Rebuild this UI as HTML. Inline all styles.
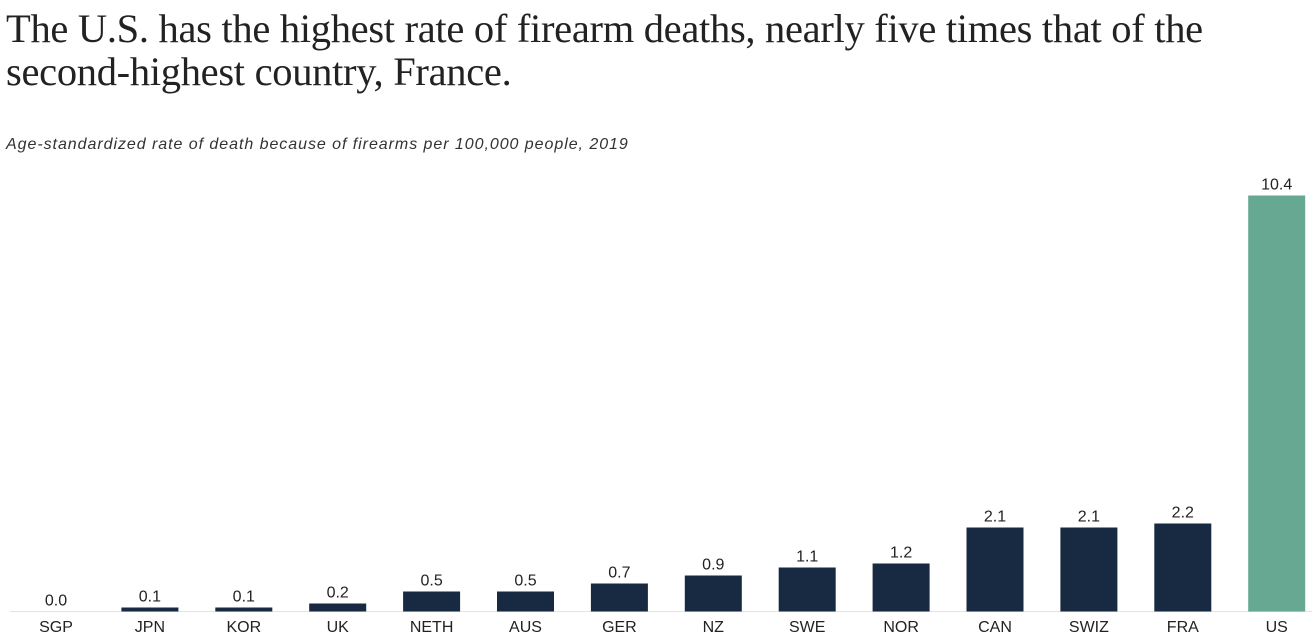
<!DOCTYPE html>
<html><head><meta charset="utf-8"><style>
body{margin:0;width:1312px;height:640px;background:#fff;overflow:hidden;font-family:"Liberation Sans",sans-serif}
#title{position:absolute;left:6px;top:7px;font-family:"Liberation Serif",serif;font-size:40.5px;line-height:43px;color:#222;font-weight:normal;margin:0;letter-spacing:-0.3px;white-space:nowrap}
#sub{position:absolute;left:6px;top:136px;font-style:italic;font-size:16px;letter-spacing:0.95px;color:#333;white-space:nowrap}
svg{position:absolute;left:0;top:0}
</style></head><body>
<h1 id="title">The U.S. has the highest rate of firearm deaths, nearly five times that of the<br>second-highest country, France.</h1>
<div id="sub">Age-standardized rate of death because of firearms per 100,000 people, 2019</div>
<svg id="chart" width="1312" height="640"></svg>
<script>
const categories=["SGP","JPN","KOR","UK","NETH","AUS","GER","NZ","SWE","NOR","CAN","SWIZ","FRA","US"];
const values=[0.0,0.1,0.1,0.2,0.5,0.5,0.7,0.9,1.1,1.2,2.1,2.1,2.2,10.4];
const valueLabels=["0.0","0.1","0.1","0.2","0.5","0.5","0.7","0.9","1.1","1.2","2.1","2.1","2.2","10.4"];
const NS="http://www.w3.org/2000/svg";
const svg=document.getElementById('chart');
const base=611.5, scaleY=40, x0=56, step=93.9, bw=57;
const y=v=>base-v*scaleY;
const xc=i=>x0+i*step;
const axis=document.createElementNS(NS,'line');
axis.setAttribute('x1',10);axis.setAttribute('x2',1312);axis.setAttribute('y1',base);axis.setAttribute('y2',base);
axis.setAttribute('stroke','#e3e3e3');axis.setAttribute('stroke-width',1);


svg.appendChild(axis);
categories.forEach((c,i)=>{
  const v=values[i];
  const r=document.createElementNS(NS,'rect');
  r.setAttribute('x',xc(i)-bw/2);r.setAttribute('y',y(v));r.setAttribute('width',bw);r.setAttribute('height',Math.max(0,v*scaleY));
  r.setAttribute('fill',c==="US"?"#66a892":"#172a41");
  
  
  svg.appendChild(r);
  const t=document.createElementNS(NS,'text');
  t.setAttribute('x',xc(i));t.setAttribute('y',y(v)-6);t.setAttribute('text-anchor','middle');
  t.setAttribute('font-size','16');t.setAttribute('fill','#222');t.textContent=valueLabels[i];
  
  
  svg.appendChild(t);
  const l=document.createElementNS(NS,'text');
  l.setAttribute('x',xc(i));l.setAttribute('y',632);l.setAttribute('text-anchor','middle');
  l.setAttribute('font-size','16');l.setAttribute('fill','#222');l.textContent=c;
  
  
  svg.appendChild(l);
});
</script>
</body></html>
